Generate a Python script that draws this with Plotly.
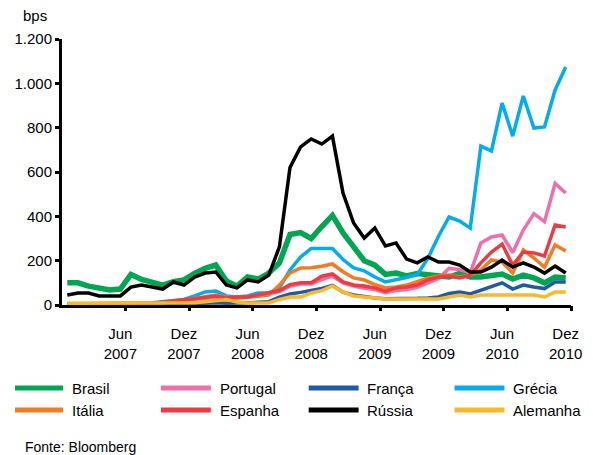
import pandas as pd
import plotly.graph_objects as go

# Monthly observations, Jan 2007 - Dec 2010
months = pd.date_range("2007-01-01", periods=48, freq="MS").strftime("%Y-%m").tolist()

brasil = [100, 100, 85, 77, 68, 72, 138, 115, 100, 90, 105, 113,
          142, 165, 180, 108, 85, 126, 117, 144, 190, 318, 327, 300,
          354, 404, 325, 262, 200, 180, 138, 144, 131, 142, 135, 131,
          126, 142, 126, 126, 131, 140, 117, 135, 122, 100, 126, 122]
portugal = [5, 5, 5, 5, 5, 5, 5, 5, 6, 8, 15, 20,
            25, 30, 35, 28, 30, 35, 40, 50, 60, 85, 95, 95,
            115, 130, 100, 85, 75, 70, 55, 65, 70, 80, 100, 120,
            165, 160, 145, 280, 307, 316, 237, 338, 412, 376, 548, 505]
franca = [3, 3, 3, 3, 3, 3, 3, 3, 3, 3, 3, 3,
          5, 8, 10, 8, 8, 10, 12, 15, 35, 50, 57, 65,
          75, 88, 58, 45, 38, 32, 28, 28, 28, 30, 32, 36,
          52, 58, 50, 68, 82, 100, 72, 90, 81, 74, 104, 104]
grecia = [5, 5, 5, 5, 5, 5, 6, 8, 10, 15, 22, 25,
          41, 59, 63, 41, 36, 41, 54, 54, 77, 158, 217, 255,
          255, 255, 205, 167, 154, 126, 104, 112, 124, 138, 210, 310,
          397, 379, 347, 717, 695, 911, 762, 943, 798, 803, 970, 1074]
italia = [6, 6, 6, 6, 6, 6, 7, 7, 8, 10, 15, 20,
          30, 38, 45, 36, 32, 36, 40, 45, 90, 145, 167, 168,
          175, 185, 150, 122, 113, 92, 78, 81, 90, 104, 122, 131,
          135, 126, 135, 158, 203, 194, 144, 248, 212, 171, 271, 244]
espanha = [5, 5, 5, 5, 5, 5, 5, 5, 8, 12, 20, 24,
           28, 36, 41, 32, 36, 36, 45, 54, 65, 92, 100, 100,
           130, 140, 104, 90, 86, 77, 62, 77, 81, 90, 113, 126,
           131, 122, 135, 190, 239, 275, 180, 239, 235, 221, 361, 352]
russia = [45, 54, 54, 41, 41, 41, 81, 90, 81, 72, 104, 90,
          126, 144, 149, 90, 77, 113, 104, 135, 262, 620, 713, 749,
          726, 762, 505, 370, 302, 347, 266, 280, 207, 190, 217, 194,
          194, 180, 149, 149, 171, 203, 171, 190, 171, 144, 176, 144]
alemanha = [8, 8, 8, 8, 8, 8, 8, 8, 8, 8, 8, 8,
            10, 15, 20, 25, 14, 9, 9, 9, 25, 36, 36, 54,
            65, 86, 59, 41, 36, 32, 27, 27, 27, 27, 27, 27,
            36, 45, 36, 45, 45, 45, 45, 45, 45, 36, 59, 59]

series = [
    ("Brasil", brasil, "#00A651", 5.5),
    ("Portugal", portugal, "#F06EAA", 3.5),
    ("França", franca, "#1F5AA6", 3.5),
    ("Grécia", grecia, "#00AEEF", 3.5),
    ("Itália", italia, "#F37B22", 3.5),
    ("Espanha", espanha, "#EE3B43", 3.5),
    ("Rússia", russia, "#000000", 3.5),
    ("Alemanha", alemanha, "#FDB827", 3.5),
]

tick_months = ["2007-06", "2007-12", "2008-06", "2008-12",
               "2009-06", "2009-12", "2010-06", "2010-12"]
tick_labels = ["Jun<br>2007", "Dez<br>2007", "Jun<br>2008", "Dez<br>2008",
               "Jun<br>2009", "Dez<br>2009", "Jun<br>2010", "Dez<br>2010"]

W, H = 593, 455
L, R, T, B = 62, 11, 39, 150
PW, PH = W - L - R, H - T - B


def px(x):
    return (x - L) / PW


def py(y):
    return (H - B - y) / PH


FONT = "Liberation Sans, Arial, sans-serif"

fig = go.Figure()
for name, vals, color, width in series:
    fig.add_trace(go.Scatter(
        x=months, y=vals, name=name, mode="lines",
        line=dict(color=color, width=width),
        showlegend=False,
    ))

# tick marks sit on the boundaries between half-year blocks
boundaries = [months.index(m) + 0.5 for m in tick_months]

fig.update_layout(
    width=W, height=H,
    margin=dict(l=L, r=R, t=T, b=B),
    paper_bgcolor="white", plot_bgcolor="white",
    separators=",.",
    font=dict(family=FONT, size=15, color="#000000"),
    xaxis=dict(
        type="category", categoryorder="array", categoryarray=months,
        range=[-0.5, len(months) - 0.5],
        tickmode="array", tickvals=tick_months, ticktext=tick_labels,
        ticks="", showgrid=False, zeroline=False,
        showline=True, linecolor="#000000", linewidth=3,
        tickfont=dict(size=15), ticklabelstandoff=13,
    ),
    xaxis2=dict(
        overlaying="x", anchor="y", side="bottom",
        range=[-0.5, len(months) - 0.5],
        tickmode="array", tickvals=boundaries,
        ticks="outside", ticklen=5, tickwidth=3, tickcolor="#000000",
        showticklabels=False, showgrid=False, zeroline=False,
        showline=False,
    ),
    yaxis=dict(
        range=[0, 1200], tickmode="linear", tick0=0, dtick=200,
        tickformat=",d", ticks="outside", ticklen=4, tickwidth=3,
        tickcolor="#000000", showgrid=False, zeroline=False,
        showline=True, linecolor="#000000", linewidth=3,
        tickfont=dict(size=15),
    ),
)

# keep the overlay axis active with an invisible helper trace
fig.add_trace(go.Scatter(x=[-0.5], y=[0], xaxis="x2", mode="markers",
                         marker=dict(opacity=0), showlegend=False,
                         hoverinfo="skip"))

annotations = [
    dict(text="bps", x=px(20), y=py(16), xanchor="left", yanchor="middle"),
    dict(text="Fonte: Bloomberg", x=px(22), y=py(447),
         xanchor="left", yanchor="middle", font=dict(size=14)),
]

# legend: two rows of four entries
shapes = []
col_lines = [(14, 63), (163, 214), (314, 365), (463, 514)]
row_y = [388, 410]
for k, (name, vals, color, width) in enumerate(series):
    r, c = divmod(k, 4)
    x0, x1 = col_lines[c]
    shapes.append(dict(type="line", xref="paper", yref="paper",
                       x0=px(x0), x1=px(x1), y0=py(row_y[r]), y1=py(row_y[r]),
                       line=dict(color=color, width=5)))
    annotations.append(dict(text=name, x=px(x1 + 7), y=py(row_y[r]),
                            xanchor="left", yanchor="middle"))

for a in annotations:
    a.setdefault("xref", "paper")
    a.setdefault("yref", "paper")
    a.setdefault("showarrow", False)
    a.setdefault("font", dict(size=15))

fig.update_layout(annotations=annotations, shapes=shapes)

fig.write_html("out.html")
